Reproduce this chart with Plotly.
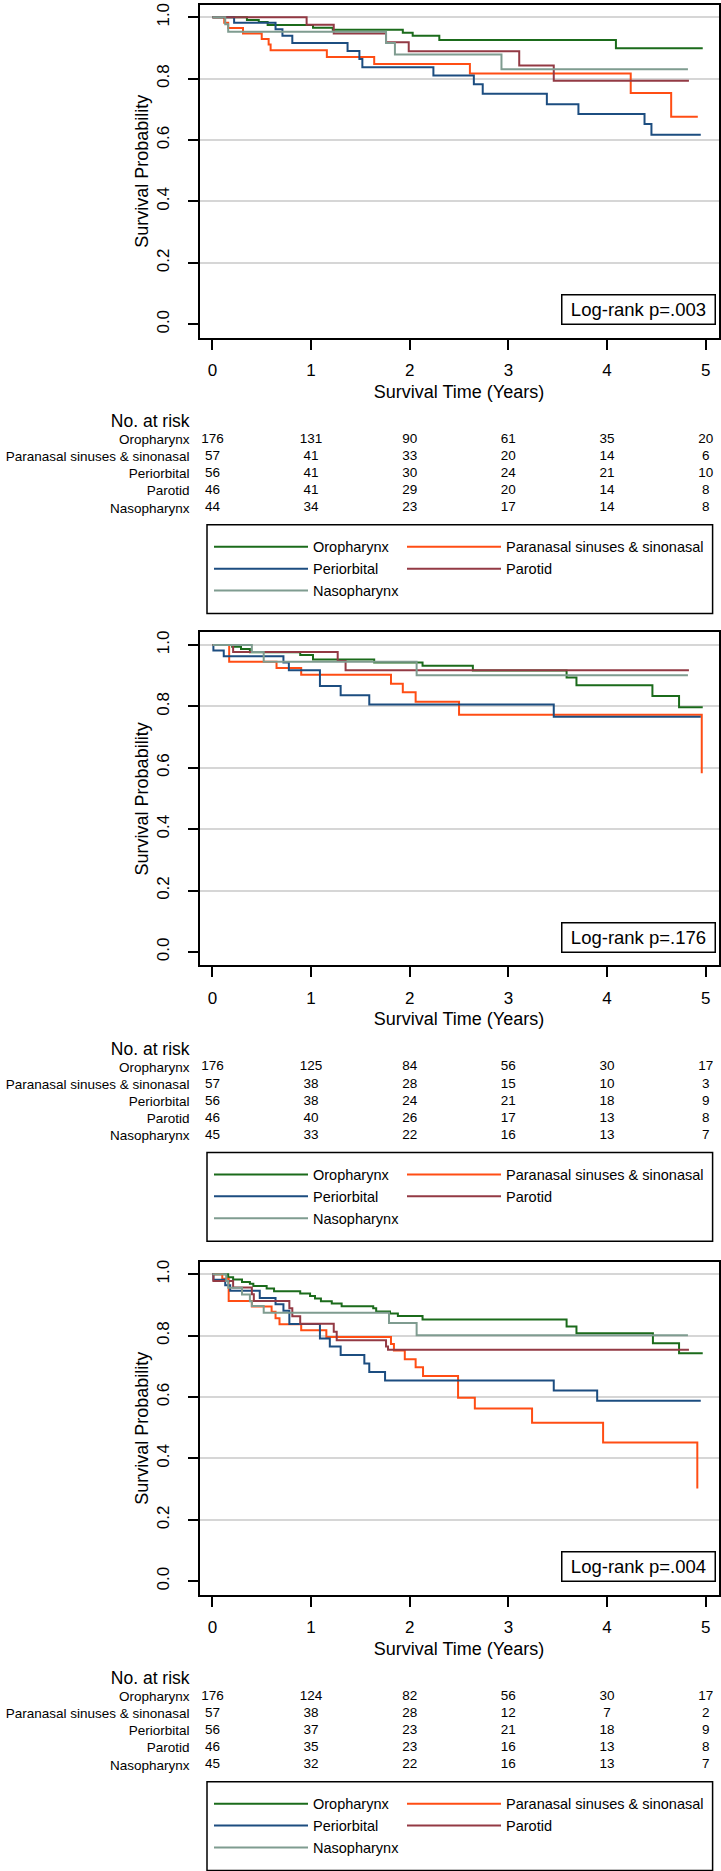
import plotly.graph_objects as go

# ---------------- data ----------------
GROUPS = ["Oropharynx", "Paranasal sinuses & sinonasal", "Periorbital", "Parotid", "Nasopharynx"]
COLORS = ["#1b6b1b", "#ff4d14", "#1c4d80", "#933a44", "#7f9c90"]
RISK_TIMES = [0, 1, 2, 3, 4, 5]
X_TICKS = [0, 1, 2, 3, 4, 5]
Y_TICKS = [0, 0.2, 0.4, 0.6, 0.8, 1.0]
Y_TICK_TEXT = ["0.0", "0.2", "0.4", "0.6", "0.8", "1.0"]
GRID_VALS = [0.2, 0.4, 0.6, 0.8, 1.0]
P_TEXT = ["Log-rank p=.003", "Log-rank p=.176", "Log-rank p=.004"]

# Panel A
a_oro_t = [0, 0.35, 0.47, 0.56, 1.02, 1.22, 1.93, 2.03, 2.30, 4.09, 4.97]
a_oro_s = [1, 0.991, 0.985, 0.975, 0.966, 0.959, 0.950, 0.940, 0.926, 0.899, 0.899]
a_para_t = [0, 0.12, 0.16, 0.31, 0.50, 0.57, 0.59, 1.16, 1.64, 2.61, 4.24, 4.65, 4.92]
a_para_s = [1, 0.982, 0.965, 0.947, 0.929, 0.911, 0.893, 0.871, 0.848, 0.817, 0.753, 0.676, 0.676]
a_peri_t = [0, 0.22, 0.64, 0.71, 0.81, 1.37, 1.49, 1.52, 2.24, 2.65, 2.74, 3.39, 3.71, 4.38, 4.45, 4.95]
a_peri_s = [1, 0.982, 0.961, 0.940, 0.916, 0.890, 0.864, 0.837, 0.810, 0.782, 0.751, 0.717, 0.685, 0.652, 0.617, 0.617]
a_paro_t = [0, 0.955, 1.23, 1.76, 1.99, 3.11, 3.46, 4.83]
a_paro_s = [1, 0.976, 0.947, 0.919, 0.889, 0.843, 0.793, 0.793]
a_naso_t = [0, 0.13, 0.16, 1.76, 1.85, 2.93, 4.82]
a_naso_s = [1, 0.977, 0.953, 0.916, 0.879, 0.831, 0.831]
a_risk = [[176, 131, 90, 61, 35, 20],
          [57, 41, 33, 20, 14, 6],
          [56, 41, 30, 24, 21, 10],
          [46, 41, 29, 20, 14, 8],
          [44, 34, 23, 17, 14, 8]]

# Panel B
b_oro_t = [0, 0.20, 0.29, 0.38, 0.89, 1.02, 1.64, 2.13, 2.64, 3.59, 3.69, 4.46, 4.73, 4.97]
b_oro_s = [1, 0.994, 0.987, 0.976, 0.967, 0.953, 0.943, 0.932, 0.917, 0.894, 0.869, 0.834, 0.797, 0.797]
b_para_t = [0, 0.17, 0.65, 0.90, 1.81, 1.93, 2.06, 2.50, 4.96]
b_para_s = [1, 0.945, 0.925, 0.903, 0.874, 0.846, 0.815, 0.773, 0.582]
b_peri_t = [0, 0.01, 0.115, 0.72, 0.775, 1.09, 1.30, 1.59, 3.46, 4.95]
b_peri_s = [1, 0.982, 0.963, 0.943, 0.918, 0.866, 0.836, 0.806, 0.766, 0.766]
b_paro_t = [0, 0.21, 1.27, 1.35, 4.83]
b_paro_s = [1, 0.977, 0.948, 0.918, 0.918]
b_naso_t = [0, 0.40, 0.52, 2.07, 4.82]
b_naso_s = [1, 0.977, 0.945, 0.901, 0.901]
b_risk = [[176, 125, 84, 56, 30, 17],
          [57, 38, 28, 15, 10, 3],
          [56, 38, 24, 21, 18, 9],
          [46, 40, 26, 17, 13, 8],
          [45, 33, 22, 16, 13, 7]]

# Panel C
c_oro_t = [0, 0.16, 0.21, 0.30, 0.38, 0.415, 0.55, 0.625, 0.89, 0.99, 1.04, 1.10, 1.21, 1.31,
           1.63, 1.66, 1.80, 1.88, 2.13, 3.59, 3.69, 4.465, 4.73, 4.97]
c_oro_s = [1, 0.990, 0.983, 0.975, 0.969, 0.962, 0.954, 0.945, 0.937, 0.929, 0.921, 0.912, 0.905, 0.896,
           0.889, 0.879, 0.872, 0.864, 0.853, 0.830, 0.808, 0.775, 0.743, 0.743]
c_para_t = [0, 0.10, 0.165, 0.40, 0.60, 0.64, 0.68, 0.90, 1.155, 1.81, 1.84, 1.95, 2.06, 2.135,
            2.49, 2.66, 3.24, 3.96, 4.915]
c_para_s = [1, 0.985, 0.913, 0.895, 0.878, 0.857, 0.837, 0.818, 0.796, 0.773, 0.752, 0.723, 0.697, 0.669,
            0.598, 0.563, 0.516, 0.452, 0.302]
c_peri_t = [0, 0.01, 0.13, 0.18, 0.48, 0.64, 0.72, 0.78, 1.09, 1.19, 1.30, 1.54, 1.59, 1.75, 3.46, 3.90, 4.95]
c_peri_s = [1, 0.982, 0.964, 0.946, 0.923, 0.902, 0.881, 0.838, 0.791, 0.765, 0.737, 0.709, 0.682, 0.654,
            0.621, 0.588, 0.588]
c_paro_t = [0, 0.01, 0.21, 0.40, 0.42, 0.78, 0.81, 0.89, 1.23, 1.26, 1.76, 1.78, 4.83]
c_paro_s = [1, 0.978, 0.957, 0.935, 0.913, 0.889, 0.863, 0.839, 0.813, 0.785, 0.765, 0.754, 0.754]
c_naso_t = [0, 0.14, 0.16, 0.30, 0.38, 0.40, 0.52, 1.79, 2.07, 4.82]
c_naso_s = [1, 0.978, 0.956, 0.934, 0.912, 0.897, 0.875, 0.841, 0.801, 0.801]
c_risk = [[176, 124, 82, 56, 30, 17],
          [57, 38, 28, 12, 7, 2],
          [56, 37, 23, 21, 18, 9],
          [46, 35, 23, 16, 13, 8],
          [45, 32, 22, 16, 13, 7]]

PANELS = [
    dict(curves=[(a_oro_t, a_oro_s), (a_para_t, a_para_s), (a_peri_t, a_peri_s),
                 (a_paro_t, a_paro_s), (a_naso_t, a_naso_s)], risk=a_risk, p=P_TEXT[0]),
    dict(curves=[(b_oro_t, b_oro_s), (b_para_t, b_para_s), (b_peri_t, b_peri_s),
                 (b_paro_t, b_paro_s), (b_naso_t, b_naso_s)], risk=b_risk, p=P_TEXT[1]),
    dict(curves=[(c_oro_t, c_oro_s), (c_para_t, c_para_s), (c_peri_t, c_peri_s),
                 (c_paro_t, c_paro_s), (c_naso_t, c_naso_s)], risk=c_risk, p=P_TEXT[2]),
]

# ---------------- layout geometry (pixels) ----------------
W, H = 721, 1871
FONT = "Liberation Sans, Arial, Helvetica, sans-serif"
TOPS = [0.6, 629.3, 1259.6]
BOX_L, BOX_R, BOX_H = 198.6, 719.5, 335.7
LW = 2
X0_PX, XS = 212.4, 98.66
Y1_OFF, Y0_OFF = 13.7, 321.2
ROW0_OFF, ROW_STEP = 419.4, 17.12
LEG_FRAME = (207, 712.6, 522.1, 611.0)
LEG_X, LEG_TOP = 209, 528.1
ITEM_W = 94
COL1_W, COL2_W = 84, 205


def fx(px):
    return px / W


def fy(px):
    return 1 - px / H


fig = go.Figure()
layout = dict(
    width=W, height=H, margin=dict(l=0, r=0, t=0, b=0),
    paper_bgcolor="white", plot_bgcolor="white",
    font=dict(family=FONT, color="black"),
    showlegend=True, shapes=[], annotations=[],
)

ys_px = Y0_OFF - Y1_OFF
xr = [(BOX_L + LW / 2 - X0_PX) / XS, (BOX_R - LW / 2 - X0_PX) / XS]
xdom = [fx(BOX_L + LW / 2), fx(BOX_R - LW / 2)]
yr = [-(BOX_H - LW / 2 - Y0_OFF) / ys_px, 1 + (Y1_OFF - LW / 2) / ys_px]

for k, panel in enumerate(PANELS, start=1):
    T = TOPS[k - 1]
    s = "" if k == 1 else str(k)
    rk = str(3 + k)
    gk = str(6 + k)
    leg = "legend" if k == 1 else "legend" + str(k)

    # main curves
    for i, (t, sv) in enumerate(panel["curves"]):
        col1 = i in (0, 2, 4)
        fig.add_trace(go.Scatter(
            x=t, y=sv, mode="lines", name=GROUPS[i],
            line=dict(color=COLORS[i], width=2, shape="hv"),
            xaxis="x" + s, yaxis="y" + s, legend=leg,
            legendgroup="p%d%s" % (k, "a" if col1 else "b"),
            legendwidth=COL1_W if col1 else COL2_W,
            hoverinfo="skip",
        ))
    # grid overlay helper (empty)
    fig.add_trace(go.Scatter(x=[], y=[], xaxis="x" + s, yaxis="y" + gk,
                             showlegend=False, hoverinfo="skip"))
    # risk table numbers
    for i, row in enumerate(panel["risk"]):
        fig.add_trace(go.Scatter(
            x=RISK_TIMES, y=[i + 1] * len(RISK_TIMES), mode="text",
            text=[str(v) for v in row], textfont=dict(size=13.5, color="black", family=FONT),
            xaxis="x" + rk, yaxis="y" + rk, showlegend=False, hoverinfo="skip",
        ))

    layout["xaxis" + s] = dict(
        domain=xdom, range=xr, anchor="y" + s,
        tickmode="array", tickvals=X_TICKS, ticks="outside", ticklen=10, tickwidth=1.5,
        tickcolor="black", showline=True, linewidth=LW, linecolor="black", mirror=True,
        showgrid=False, zeroline=False, tickfont=dict(size=17), ticklabelstandoff=6,
        title=dict(text="Survival Time (Years)", font=dict(size=18), standoff=6),
    )
    layout["yaxis" + s] = dict(
        domain=[fy(T + BOX_H - LW / 2), fy(T + LW / 2)], range=yr, anchor="x" + s,
        tickmode="array", tickvals=Y_TICKS, ticktext=Y_TICK_TEXT, tickangle=-90,
        ticks="outside", ticklen=10, tickwidth=1.5, tickcolor="black",
        showline=True, linewidth=LW, linecolor="black", mirror=True,
        showgrid=False, zeroline=False, tickfont=dict(size=17), ticklabelstandoff=12,
        title=dict(text="Survival Probability", font=dict(size=18), standoff=0),
    )
    layout["yaxis" + gk] = dict(
        overlaying="y" + s, anchor="x" + s, range=yr,
        tickmode="array", tickvals=GRID_VALS, showgrid=True, gridcolor="#d6d6d6", gridwidth=1.5,
        showticklabels=False, ticks="", showline=False, zeroline=False,
    )
    layout["xaxis" + rk] = dict(domain=xdom, range=xr, anchor="y" + rk, visible=False)
    layout["yaxis" + rk] = dict(
        domain=[fy(T + ROW0_OFF + 5.5 * ROW_STEP), fy(T + ROW0_OFF - 0.5 * ROW_STEP)],
        range=[5.5, -0.5], anchor="x" + rk,
        tickmode="array", tickvals=[0, 1, 2, 3, 4, 5],
        ticktext=["<span style='font-size:17.5px'>No. at risk</span>"] + GROUPS,
        ticks="", showline=False, showgrid=False, zeroline=False,
        tickfont=dict(size=13.5), ticklabelstandoff=9,
    )
    layout[leg] = dict(
        x=fx(LEG_X), y=fy(T + LEG_TOP), xanchor="left", yanchor="top",
        orientation="h", traceorder="grouped", itemwidth=ITEM_W, tracegroupgap=0,
        font=dict(size=14.5), bgcolor="rgba(0,0,0,0)", borderwidth=0,
    )
    fl, fr, ft, fb = LEG_FRAME
    layout["shapes"].append(dict(
        type="rect", xref="paper", yref="paper",
        x0=fx(fl), x1=fx(fr), y0=fy(T + fb), y1=fy(T + ft),
        line=dict(color="black", width=1.5), fillcolor="rgba(0,0,0,0)",
    ))
    layout["annotations"].append(dict(
        xref="x" + s, yref="y" + s, x=(638 - X0_PX) / XS, y=1 - (306.5 - Y1_OFF) / ys_px,
        text=panel["p"], showarrow=False, font=dict(size=18.5),
        width=150, height=26, borderpad=1, borderwidth=1.5, bordercolor="black",
        bgcolor="white", xanchor="center", yanchor="middle",
    ))

fig.update_layout(**layout)
fig.write_html("out.html", config={"displayModeBar": False})
